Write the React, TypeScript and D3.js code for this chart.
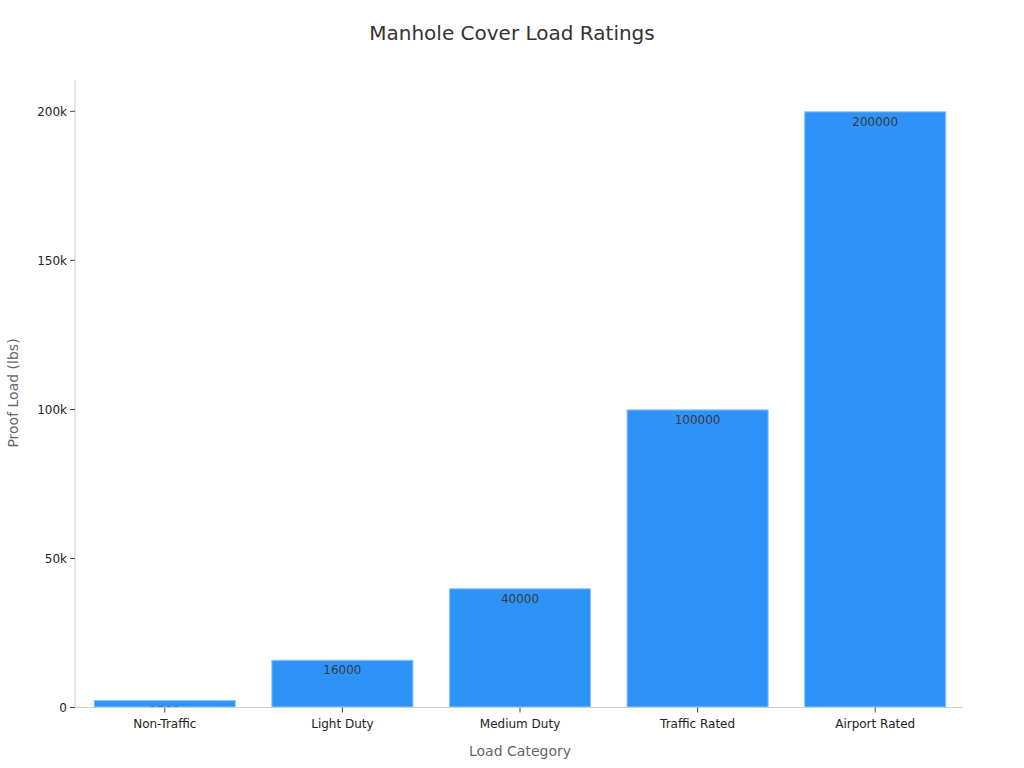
import React from "react";
import * as d3 from "d3";

const categories = ["Non-Traffic", "Light Duty", "Medium Duty", "Traffic Rated", "Airport Rated"];
const values = [2500, 16000, 40000, 100000, 200000];
const yTicks = [0, 50000, 100000, 150000, 200000];
const yTickLabels = ["0", "50k", "100k", "150k", "200k"];

const W = 1024;
const H = 768;
const margin = { left: 75, right: 61, top: 80, bottom: 60.5 };
const FONT = "DejaVu Sans, sans-serif";

export default function App() {
  const x = d3
    .scaleBand<string>()
    .domain(categories)
    .range([margin.left + 1, W - margin.right + 1])
    .paddingInner(0.2)
    .paddingOuter(0.1);
  const y = d3
    .scaleLinear()
    .domain([0, 210500])
    .range([H - margin.bottom, margin.top]);
  const y0 = y(0);
  return (
    <svg width={W} height={H} style={{ position: "absolute", left: 0, top: 0, fontFamily: FONT }}>
      <rect width={W} height={H} fill="#fff" />
      <text x={512} y={40} textAnchor="middle" fontSize={20} fill="#333">
        Manhole Cover Load Ratings
      </text>
      <defs>
        {categories.map((c, i) => (
          <clipPath id={`clip${i}`} key={c}>
            <rect x={x(c)} y={y(values[i]) + 1} width={x.bandwidth()} height={Math.max(0, y0 - y(values[i]) - 2)} />
          </clipPath>
        ))}
      </defs>
      {categories.map((c, i) => (
        <g key={c}>
          <rect
            x={x(c)! + 0.5}
            y={y(values[i]) + 0.5}
            width={x.bandwidth() - 1}
            height={Math.max(0, y0 - y(values[i]) - 1)}
            fill="#2e93f8"
            stroke="#8cc3fb"
            strokeWidth={1}
          />
          <text
            x={x(c)! + x.bandwidth() / 2}
            y={y(values[i]) + 14.5}
            textAnchor="middle"
            fontSize={12}
            fill="#3a3a3a"
            clipPath={`url(#clip${i})`}
          >
            {values[i]}
          </text>
        </g>
      ))}
      <line x1={margin.left} x2={margin.left} y1={margin.top} y2={y0} stroke="#ccc" />
      <line x1={margin.left} x2={W - margin.right} y1={y0} y2={y0} stroke="#ccc" />
      {yTicks.map((t, i) => (
        <g key={t} transform={`translate(${margin.left},${y(t)})`}>
          <line x1={-5} x2={0} stroke="#444" />
          <text x={-8} dy="0.35em" textAnchor="end" fontSize={12} fill="#222">
            {yTickLabels[i]}
          </text>
        </g>
      ))}
      {categories.map((c) => (
        <g key={c} transform={`translate(${x(c)! + x.bandwidth() / 2},${y0})`}>
          <line y1={0} y2={5} stroke="#444" />
          <text y={20} textAnchor="middle" fontSize={12} fill="#222">
            {c}
          </text>
        </g>
      ))}
      <text x={520} y={756} textAnchor="middle" fontSize={14} fill="#666">
        Load Category
      </text>
      <text transform={`translate(18,393) rotate(-90)`} textAnchor="middle" fontSize={14} fill="#666">
        Proof Load (lbs)
      </text>
    </svg>
  );
}
